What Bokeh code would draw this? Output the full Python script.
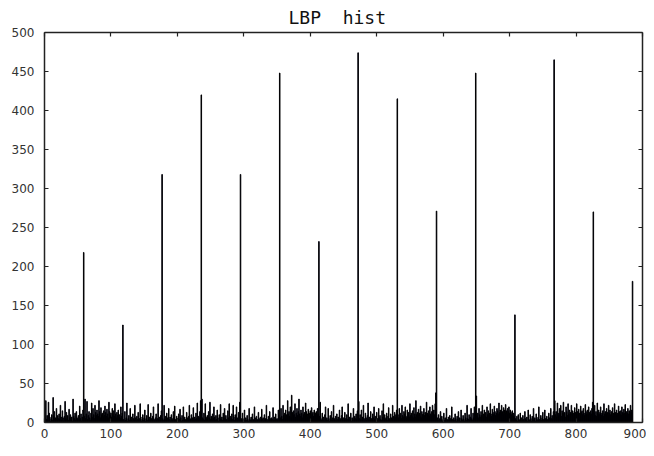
from bokeh.plotting import figure
from bokeh.models import LinearAxis, Range1d, SingleIntervalTicker, ColumnDataSource, CustomJSTickFormatter
from bokeh.embed import file_html
from bokeh.resources import INLINE

# ---- data: 15 LBP blocks of 59 bins (58 uniform bins + 1 tall bin) ----
block1 = [6, 28, 4, 9, 3, 26, 12, 7, 2, 5,
          10, 3, 32, 8, 14, 4, 6, 18, 3, 9,
          5, 11, 4, 22, 7, 3, 15, 6, 2, 8,
          27, 5, 13, 4, 9, 3, 17, 6, 10, 4,
          7, 2, 30, 8, 5, 12, 3, 14, 6, 4,
          9, 3, 21, 5, 11, 2, 7, 16]
block2 = [8, 30, 5, 11, 27, 4, 9, 14, 6, 3,
          12, 25, 7, 18, 10, 5, 22, 13, 9, 16,
          11, 8, 28, 14, 6, 19, 10, 12, 7, 15,
          9, 21, 13, 8, 17, 11, 6, 26, 14, 9,
          12, 7, 18, 10, 15, 8, 24, 11, 6, 13,
          9, 16, 7, 10, 5, 20, 8, 12]
block3 = [4, 2, 14, 3, 6, 25, 2, 5, 9, 3,
          18, 4, 7, 2, 11, 5, 3, 22, 6, 2,
          8, 4, 13, 3, 5, 24, 7, 2, 4, 10,
          3, 6, 16, 2, 5, 9, 3, 23, 4, 7,
          2, 12, 5, 3, 8, 20, 4, 2, 6, 11,
          3, 5, 24, 4, 7, 2, 9, 15]
block4 = [5, 3, 22, 4, 8, 2, 12, 6, 3, 18,
          4, 7, 2, 10, 5, 3, 14, 6, 21, 4,
          2, 8, 5, 3, 11, 4, 17, 6, 2, 9,
          3, 20, 5, 7, 4, 2, 13, 6, 3, 8,
          22, 5, 4, 10, 3, 6, 19, 2, 7, 4,
          12, 5, 25, 3, 8, 6, 14, 28]
block5 = [30, 6, 4, 12, 3, 24, 7, 5, 9, 2,
          14, 6, 26, 4, 8, 3, 11, 5, 20, 7,
          3, 9, 4, 16, 6, 2, 10, 5, 23, 4,
          7, 3, 12, 6, 18, 5, 9, 4, 2, 15,
          6, 24, 3, 8, 5, 11, 4, 22, 7, 3,
          10, 5, 20, 6, 4, 13, 8, 26]
block6 = [5, 2, 12, 4, 3, 16, 2, 6, 3, 9,
          4, 2, 18, 5, 3, 7, 2, 11, 4, 3,
          20, 6, 2, 8, 4, 3, 13, 5, 2, 7,
          3, 17, 4, 6, 2, 10, 3, 5, 22, 4,
          2, 8, 3, 14, 5, 2, 6, 4, 19, 3,
          7, 2, 11, 4, 5, 3, 16, 9]
block7 = [6, 18, 8, 4, 22, 9, 12, 5, 16, 10,
          7, 28, 11, 14, 8, 20, 6, 35, 13, 9,
          15, 10, 24, 7, 12, 18, 9, 14, 30, 11,
          8, 16, 12, 6, 20, 10, 13, 9, 25, 14,
          7, 11, 17, 8, 12, 15, 9, 19, 11, 13,
          8, 16, 10, 12, 14, 9, 18, 11]
block8 = [8, 26, 5, 3, 12, 4, 7, 2, 10, 20,
          4, 6, 3, 18, 5, 2, 9, 4, 14, 3,
          6, 22, 5, 3, 8, 2, 11, 4, 7, 3,
          16, 5, 2, 9, 20, 4, 6, 3, 13, 5,
          2, 10, 4, 24, 3, 7, 5, 12, 2, 6,
          4, 18, 3, 8, 5, 11, 4, 15]
block9 = [27, 5, 10, 4, 16, 3, 7, 22, 5, 2,
          12, 6, 3, 9, 25, 4, 7, 2, 14, 5,
          3, 11, 6, 20, 4, 8, 3, 13, 5, 2,
          18, 6, 9, 4, 3, 15, 7, 24, 5, 10,
          4, 6, 12, 3, 8, 19, 5, 2, 11, 6,
          4, 22, 8, 5, 13, 7, 10, 16]
block10 = [10, 6, 18, 8, 12, 5, 22, 9, 7, 14,
           11, 20, 8, 6, 16, 10, 13, 7, 24, 9,
           12, 8, 15, 6, 19, 11, 7, 28, 10, 13,
           9, 17, 12, 8, 21, 6, 14, 10, 11, 18,
           9, 13, 7, 26, 12, 10, 15, 8, 20, 11,
           9, 14, 22, 12, 16, 10, 24, 38]
block11 = [6, 3, 10, 2, 5, 14, 3, 8, 2, 4,
           12, 3, 6, 2, 18, 4, 3, 7, 2, 9,
           5, 3, 20, 4, 2, 6, 3, 11, 5, 2,
           8, 4, 14, 3, 6, 2, 16, 5, 3, 9,
           4, 2, 12, 6, 3, 22, 5, 4, 10, 3,
           7, 18, 5, 3, 12, 6, 20, 14]
block12 = [34, 8, 12, 6, 18, 10, 7, 14, 9, 22,
           6, 11, 16, 8, 13, 7, 20, 10, 15, 9,
           12, 24, 11, 8, 17, 13, 10, 21, 14, 9,
           12, 18, 15, 11, 25, 13, 16, 12, 22, 14,
           10, 19, 16, 12, 23, 15, 11, 18, 14, 20,
           12, 16, 13, 10, 15, 9, 12, 8]
block13 = [5, 3, 8, 2, 10, 4, 3, 12, 2, 6,
           3, 9, 4, 2, 14, 5, 3, 7, 2, 16,
           4, 3, 10, 5, 2, 8, 3, 18, 4, 6,
           2, 11, 5, 3, 7, 20, 4, 2, 9, 3,
           6, 13, 4, 2, 16, 5, 3, 8, 4, 2,
           12, 6, 3, 18, 5, 9, 4, 14]
block14 = [28, 10, 14, 7, 25, 12, 9, 18, 11, 22,
           8, 15, 12, 26, 10, 13, 7, 20, 14, 9,
           24, 11, 16, 8, 13, 22, 10, 15, 12, 9,
           19, 13, 11, 24, 14, 10, 17, 12, 8, 21,
           13, 15, 10, 18, 12, 9, 23, 14, 11, 16,
           10, 20, 13, 9, 15, 11, 18, 26]
block15 = [12, 22, 9, 14, 8, 25, 11, 16, 10, 13,
           20, 9, 12, 15, 8, 24, 11, 14, 10, 18,
           13, 9, 22, 12, 16, 10, 14, 8, 19, 12,
           11, 24, 13, 9, 16, 12, 10, 21, 14, 11,
           15, 9, 20, 13, 11, 17, 12, 23, 10, 14,
           12, 18, 11, 15, 9, 22, 13, 16]
spike_values = [218, 125, 318, 420, 318, 448, 232, 474, 415, 271, 448, 138, 465, 270, 181]

blocks = [block1, block2, block3, block4, block5, block6, block7, block8,
          block9, block10, block11, block12, block13, block14, block15]

counts = []
for blk, spike in zip(blocks, spike_values):
    counts += blk + [spike]
bins = list(range(1, len(counts) + 1))

title_text = "LBP\u00a0\u00a0hist"

# ---- figure ----
p = figure(width=646, height=440, x_range=Range1d(0, 900), y_range=Range1d(0, 500),
           output_backend="svg", toolbar_location=None, title=title_text,
           min_border_left=44, min_border_right=0, min_border_top=32, min_border_bottom=0)
p.background_fill_color = "white"
p.border_fill_color = "white"
p.outline_line_color = None
p.xgrid.visible = False
p.ygrid.visible = False

p.title.align = "left"
p.title.offset = 244
p.title.text_font = "DejaVu Sans Mono"
p.title.text_font_size = "18px"
p.title.text_font_style = "normal"
p.title.text_color = "#111111"
p.title.standoff = 2

src = ColumnDataSource(dict(x=bins, top=counts))
p.vbar(x="x", top="top", width=0.8, bottom=0, source=src,
       fill_color="#00008f", line_color="#000000", line_width=1.0)

xt = SingleIntervalTicker(interval=100)
yt = SingleIntervalTicker(interval=50)

def style(ax, labels=True):
    ax.axis_line_color = "#222222"
    ax.axis_line_width = 1.5
    ax.major_tick_in = 4
    ax.major_tick_out = 0
    ax.major_tick_line_color = "#222222"
    ax.major_tick_line_width = 1.2
    ax.minor_tick_line_color = None
    if labels:
        ax.major_label_text_font = "DejaVu Sans"
        ax.major_label_text_font_size = "12px"
        ax.major_label_text_color = "#333333"
    else:
        ax.formatter = CustomJSTickFormatter(code="return ''")
        ax.major_label_text_color = None
        ax.major_label_text_font_size = "1px"
        ax.major_label_standoff = 0
        ax.axis_label_standoff = 0

p.xaxis.ticker = xt
p.yaxis.ticker = yt
style(p.xaxis[0])
style(p.yaxis[0])
p.xaxis.major_label_standoff = 2
p.yaxis.major_label_standoff = 6

top_ax = LinearAxis(ticker=SingleIntervalTicker(interval=100))
style(top_ax, labels=False)
p.add_layout(top_ax, "above")

right_ax = LinearAxis(ticker=SingleIntervalTicker(interval=50))
style(right_ax, labels=False)
p.add_layout(right_ax, "right")

open("out.html", "w").write(file_html(p, INLINE))
